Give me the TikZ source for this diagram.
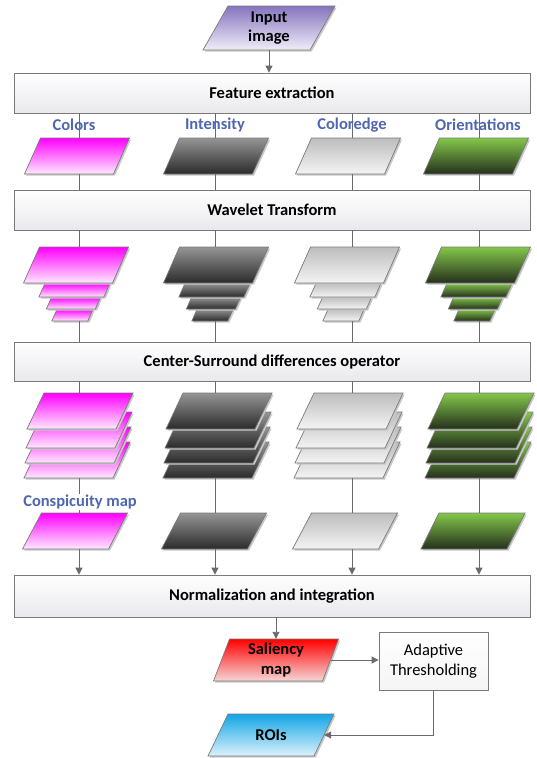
\documentclass[tikz,border=0pt]{standalone}
\usepackage{fontspec}
\setmainfont{Carlito}
\usetikzlibrary{arrows.meta,calc}

\definecolor{linegray}{HTML}{6A6A6A}
\definecolor{edgegray}{HTML}{7A7A7A}
\definecolor{boxbot}{HTML}{E9E8EC}
\definecolor{labelblue}{HTML}{4F67B0}
\definecolor{shadowgray}{HTML}{C8C8C8}
% shape fills (top / bottom of each gradient)
\definecolor{purpleT}{HTML}{8674BE}
\definecolor{purpleB}{HTML}{F0EDF8}
\definecolor{magT}{HTML}{FF00FF}
\definecolor{magB}{HTML}{FFEAFF}
\definecolor{darkT}{HTML}{959595}
\definecolor{darkB}{HTML}{2B2B2B}
\definecolor{lightT}{HTML}{BDBDBD}
\definecolor{lightB}{HTML}{F4F4F4}
\definecolor{greenT}{HTML}{84C74A}
\definecolor{greenB}{HTML}{25301D}
\definecolor{redT}{HTML}{FF0000}
\definecolor{redB}{HTML}{F6D6D6}
\definecolor{blueT}{HTML}{12A5E6}
\definecolor{blueB}{HTML}{DDF1FB}

\newcommand\txtsize{\fontsize{16.5}{19.5}\selectfont}

\tikzset{
  conn/.style={draw=linegray, line width=0.9pt},
  arr/.style={conn, -{Triangle[length=7pt,width=7pt]}},
  widebox/.style={draw=edgegray, line width=0.8pt, top color=white, bottom color=boxbot,
    minimum width=516pt, inner sep=0pt, font=\bfseries\txtsize},
  stagelabel/.style={text=labelblue, font=\bfseries\txtsize, inner sep=1pt},
  slabtext/.style={font=\bfseries\txtsize, align=center},
}

% shaded parallelogram: name, cx, cy, width, height, slant, top colour, bottom colour, text
\newcommand\slab[9]{%
  \fill[shadowgray]
    (#2-#4/2-#6/2+1.6,#3+#5/2+1.6) -- (#2+#4/2-#6/2+1.6,#3+#5/2+1.6) --
    (#2+#4/2+#6/2+1.6,#3-#5/2+1.6) -- (#2-#4/2+#6/2+1.6,#3-#5/2+1.6) -- cycle;
  \shadedraw[top color=#7, bottom color=#8, draw=edgegray, line width=0.7pt]
    (#2-#4/2-#6/2,#3+#5/2) -- (#2+#4/2-#6/2,#3+#5/2) --
    (#2+#4/2+#6/2,#3-#5/2) -- (#2-#4/2+#6/2,#3-#5/2) -- cycle;
  \node[inner sep=0pt, minimum width=#4pt, minimum height=#5pt, slabtext] (#1) at (#2,#3) {#9};
}

% wavelet pyramid: name, cx, top y, top colour, bottom colour
\newcommand\pyramid[5]{%
  \slab{#1d}{#2-3.5}{#3+68}{36}{12}{5.3}{#4}{#5}{}
  \slab{#1c}{#2-2.5}{#3+56}{49}{12}{5.3}{#4}{#5}{}
  \slab{#1b}{#2-1.5}{#3+43}{65}{14}{6.2}{#4}{#5}{}
  \slab{#1}{#2}{#3+18}{89}{36}{16}{#4}{#5}{}
}

% stack of four feature maps: name, cx, top y, top colour, bottom colour
\newcommand\mapstack[5]{%
  \slab{#1d}{#2-3}{#3+67}{89}{36}{17}{#4}{#5}{}
  \slab{#1c}{#2-2}{#3+52}{89}{36}{17}{#4}{#5}{}
  \slab{#1b}{#2-1}{#3+37}{89}{36}{17}{#4}{#5}{}
  \slab{#1}{#2}{#3+18}{89}{36}{17}{#4}{#5}{}
}

\begin{document}
\begin{tikzpicture}[x=1pt,y=-1pt]
\useasboundingbox (0,0) rectangle (537,758);

% column axes
\coordinate (c1) at (79,0);
\coordinate (c2) at (215,0);
\coordinate (c3) at (352,0);
\coordinate (c4) at (479,0);

% input
\slab{input}{269}{28}{107}{44}{25}{purpleT}{purpleB}{Input\\image}

% processing stages
\node[widebox, minimum height=40pt] (feat) at (272,93) {Feature extraction};
\node[widebox, minimum height=40pt] (wave) at (272,210) {Wavelet Transform};
\node[widebox, minimum height=39pt] (cs) at (272,361.5) {Center-Surround differences operator};
\node[widebox, minimum height=42pt] (norm) at (272,596) {Normalization and integration};

% extracted features
\slab{fa}{77}{156}{89}{36}{16}{magT}{magB}{}
\slab{fb}{216}{156}{89}{36}{16}{darkT}{darkB}{}
\slab{fc}{348}{156}{89}{36}{16}{lightT}{lightB}{}
\slab{fd}{476}{156}{89}{36}{16}{greenT}{greenB}{}

% wavelet pyramids
\pyramid{pa}{76}{247}{magT}{magB}
\pyramid{pb}{216}{247}{darkT}{darkB}
\pyramid{pc}{347}{247}{lightT}{lightB}
\pyramid{pd}{478}{247}{greenT}{greenB}

% center-surround map stacks
\mapstack{sa}{80}{393}{magT}{magB}
\mapstack{sb}{219}{393}{darkT}{darkB}
\mapstack{sc}{350}{393}{lightT}{lightB}
\mapstack{sd}{481}{393}{greenT}{greenB}

% conspicuity maps
\slab{ma}{75}{531}{86}{36}{19}{magT}{magB}{}
\slab{mb}{214}{531}{86}{36}{19}{darkT}{darkB}{}
\slab{mc}{345}{531}{86}{36}{19}{lightT}{lightB}{}
\slab{md}{473}{531}{86}{36}{18}{greenT}{greenB}{}

% output stage
\slab{sal}{276}{660}{109}{42}{16}{redT}{redB}{Saliency\\map}
\node[draw=edgegray, line width=0.8pt, top color=white, bottom color=white!92!gray,
      minimum width=109pt, minimum height=58pt, align=center,
      font=\txtsize] (adapt) at (433.5,661) {Adaptive\\Thresholding};
\slab{roi}{271}{735}{106}{42}{20}{blueT}{blueB}{ROIs}

% connectors
\draw[arr] (input.south) -- (input.south |- feat.north);
\foreach \c/\a/\p/\s/\m in {c1/fa/pa/sa/ma, c2/fb/pb/sb/mb, c3/fc/pc/sc/mc, c4/fd/pd/sd/md}{
  \draw[conn] (\c |- feat.south) -- (\c |- \a.north);
  \draw[conn] (\c |- \a.south) -- (\c |- wave.north);
  \draw[conn] (\c |- wave.south) -- (\c |- \p.north);
  \draw[conn] (\c |- \p d.south) -- (\c |- cs.north);
  \draw[conn] (\c |- cs.south) -- (\c |- \s.north);
  \draw[conn] (\c |- \s d.south) -- (\c |- \m.north);
  \draw[arr] (\c |- \m.south) -- (\c |- norm.north);
}
\draw[arr] (sal.north |- norm.south) -- (sal.north);
\draw[arr] (sal.east) -- (sal.east -| adapt.west);
\draw[arr] (adapt.south) |- (roi.east);

% feature labels
\node[stagelabel] (lca) at (74,125) {Colors};
\node[stagelabel] (lcb) at (215,125) {Intensity};
\node[stagelabel] (lcc) at (352,125) {Coloredge};
\node[stagelabel] (lcd) at (478,125) {Orientations};
\node[stagelabel, fill=white] (lmap) at (80,502) {Conspicuity map};
\end{tikzpicture}
\end{document}
